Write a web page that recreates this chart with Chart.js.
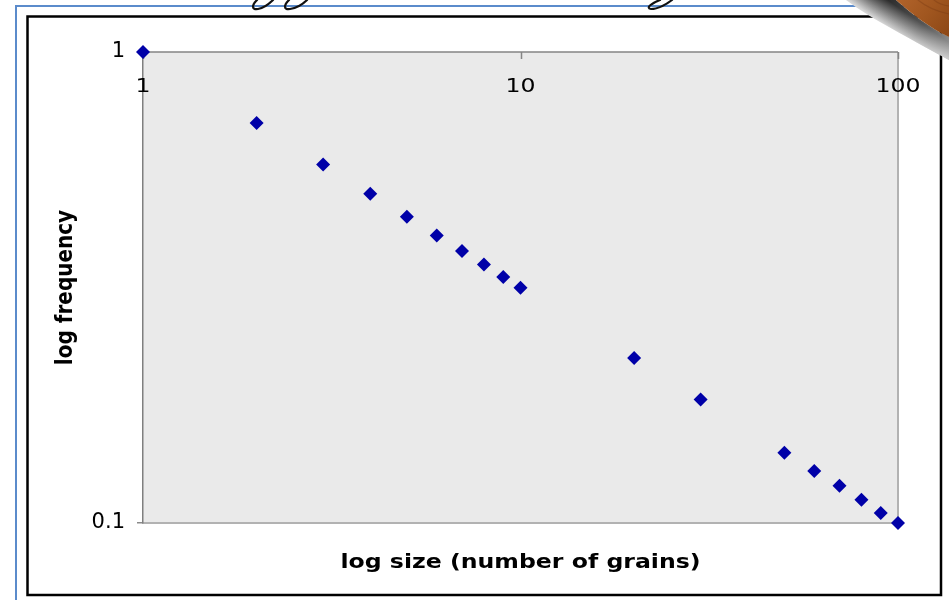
<!DOCTYPE html>
<html>
<head>
<meta charset="utf-8">
<script src="https://cdn.jsdelivr.net/npm/chart.js@4.4.1/dist/chart.umd.min.js"></script>
<style>
  html, body { margin: 0; padding: 0; background: #fff; }
  canvas { display: block; }
</style>
</head>
<body>
<canvas id="chart" width="949" height="600"></canvas>
<script>
// Avalanche sizes (grains) and how often each size occurs
const sizes = [1, 2, 3, 4, 5, 6, 7, 8, 9, 10, 20, 30, 50, 60, 70, 80, 90, 100];
const frequencies = [1, 0.707, 0.577, 0.5, 0.447, 0.408, 0.378, 0.354, 0.333, 0.316,
                     0.224, 0.183, 0.141, 0.129, 0.120, 0.112, 0.105, 0.1];

const xTickValues = [1, 10, 100];
const xTickLabels = ['1', '10', '100'];
const yTickValues = [0.1, 1];
const yTickLabels = ['0.1', '1'];

const xTitle = 'log size (number of grains)';
const yTitle = 'log frequency';

const FONT = '"DejaVu Sans", Verdana, sans-serif';
const H_STRETCH = 1.18;

// Page frame, plot background
const framePlugin = {
  id: 'frame',
  beforeDraw(chart) {
    const ctx = chart.ctx;
    const a = chart.chartArea;
    ctx.save();
    ctx.fillStyle = '#ffffff';
    ctx.fillRect(0, 0, chart.width, chart.height);

    // slide guides
    ctx.strokeStyle = '#5b8bcb';
    ctx.lineWidth = 2;
    ctx.beginPath();
    ctx.moveTo(15, 6); ctx.lineTo(949, 6);
    ctx.moveTo(16, 6); ctx.lineTo(16, 600);
    ctx.stroke();

    // outer chart frame
    ctx.strokeStyle = '#000000';
    ctx.lineWidth = 2.5;
    ctx.strokeRect(27.5, 16.5, 913.5, 578.5);

    // plot area
    ctx.fillStyle = '#eaeaea';
    ctx.fillRect(a.left, a.top, a.right - a.left, a.bottom - a.top);
    ctx.restore();
  },
  beforeDatasetsDraw(chart) {
    const ctx = chart.ctx;
    const a = chart.chartArea;
    const xs = chart.scales.x;
    ctx.save();
    // right edge of the plot area
    ctx.strokeStyle = '#b2b2b2';
    ctx.lineWidth = 2;
    ctx.beginPath();
    ctx.moveTo(a.right, a.top); ctx.lineTo(a.right, a.bottom + 1);
    ctx.stroke();
    // horizontal axis line along the top, with its tick marks
    ctx.strokeStyle = '#858585';
    ctx.lineWidth = 1.5;
    ctx.beginPath();
    ctx.moveTo(a.left, a.top); ctx.lineTo(a.right, a.top);
    xs.ticks.forEach(t => {
      const px = Math.round(xs.getPixelForValue(t.value)) + 0.5;
      ctx.moveTo(px, a.top); ctx.lineTo(px, a.top + 7);
    });
    ctx.stroke();

    // x tick labels, just under the axis line
    ctx.fillStyle = '#000';
    ctx.font = '20px ' + FONT;
    ctx.textAlign = 'center';
    ctx.textBaseline = 'alphabetic';
    xs.ticks.forEach(t => {
      const px = xs.getPixelForValue(t.value);
      ctx.save();
      ctx.translate(px, a.top + 40);
      ctx.scale(H_STRETCH, 1);
      ctx.fillText(xTickLabels[xTickValues.indexOf(t.value)], 0, 0);
      ctx.restore();
    });

    // axis titles
    ctx.font = 'bold 20px ' + FONT;
    ctx.save();
    ctx.translate((a.left + a.right) / 2, 568);
    ctx.scale(H_STRETCH, 1);
    ctx.fillText(xTitle, 0, 0);
    ctx.restore();

    ctx.save();
    ctx.textBaseline = 'middle';
    ctx.translate(66, (a.top + a.bottom) / 2);
    ctx.scale(H_STRETCH, 1);
    ctx.rotate(-Math.PI / 2);
    ctx.fillText(yTitle, 0, 0);
    ctx.restore();
    ctx.restore();
  }
};

// Curled photo corner and the foot of the handwritten heading
const cornerPlugin = {
  id: 'corner',
  afterDraw(chart) {
    const ctx = chart.ctx;
    ctx.save();
    ctx.strokeStyle = '#111';
    ctx.lineWidth = 2.2;
    ctx.lineCap = 'round';
    ctx.beginPath();
    ctx.moveTo(257, 0); ctx.bezierCurveTo(252, 5, 251, 10, 258, 9);
    ctx.bezierCurveTo(264, 8, 270, 3, 273, 0);
    ctx.moveTo(289, 0); ctx.bezierCurveTo(284, 5, 283, 10, 290, 9);
    ctx.bezierCurveTo(297, 8, 304, 3, 307, 0);
    ctx.moveTo(660, 0); ctx.bezierCurveTo(652, 3, 645, 8, 651, 9);
    ctx.bezierCurveTo(658, 9, 667, 4, 672, 0);
    ctx.stroke();

    // shadow band under the curl: dark at the top, fading toward the right edge
    const band = new Path2D();
    band.moveTo(846, 0);
    band.lineTo(896, 0);
    band.bezierCurveTo(912, 14, 930, 28, 949, 37);
    band.lineTo(949, 60);
    band.bezierCurveTo(930, 50, 905, 36, 880, 22);
    band.bezierCurveTo(866, 14, 854, 6, 846, 0);
    band.closePath();

    ctx.save();
    ctx.clip(band);
    const sg = ctx.createLinearGradient(908, 14, 890, 40);
    sg.addColorStop(0, 'rgb(30,30,30)');
    sg.addColorStop(0.3, 'rgb(105,105,105)');
    sg.addColorStop(0.7, 'rgb(210,210,210)');
    sg.addColorStop(1, 'rgb(255,255,255)');
    ctx.fillStyle = sg;
    ctx.fillRect(830, 0, 130, 70);
    const fade = ctx.createLinearGradient(870, 0, 949, 55);
    fade.addColorStop(0, 'rgba(255,255,255,0)');
    fade.addColorStop(0.6, 'rgba(255,255,255,0.25)');
    fade.addColorStop(1, 'rgba(255,255,255,0.55)');
    ctx.fillStyle = fade;
    ctx.fillRect(830, 0, 130, 70);
    ctx.restore();

    // wooden surface
    const g = ctx.createLinearGradient(900, 0, 949, 36);
    g.addColorStop(0, '#b0622a');
    g.addColorStop(0.5, '#a0561f');
    g.addColorStop(1, '#8c4716');
    ctx.fillStyle = g;
    ctx.beginPath();
    ctx.moveTo(896, 0);
    ctx.lineTo(949, 0);
    ctx.lineTo(949, 37);
    ctx.bezierCurveTo(930, 28, 912, 14, 896, 0);
    ctx.closePath();
    ctx.fill();
    ctx.strokeStyle = 'rgba(110,50,15,0.3)';
    ctx.lineWidth = 1.2;
    ctx.beginPath();
    ctx.moveTo(918, 0); ctx.quadraticCurveTo(930, 10, 949, 14);
    ctx.moveTo(934, 0); ctx.quadraticCurveTo(940, 5, 949, 6);
    ctx.stroke();
    ctx.restore();
  }
};

new Chart(document.getElementById('chart'), {
  type: 'scatter',
  data: {
    datasets: [{
      data: sizes.map((s, i) => ({ x: s, y: frequencies[i] })),
      pointStyle: 'rectRot',
      pointRadius: 7,
      pointHoverRadius: 7,
      backgroundColor: '#0000a8',
      borderColor: '#0000a8',
      borderWidth: 0,
      showLine: false,
      clip: false
    }]
  },
  options: {
    responsive: false,
    animation: false,
    events: [],
    devicePixelRatio: 1,
    layout: { padding: { left: 0, top: 52, right: 51, bottom: 0 } },
    plugins: { legend: { display: false }, tooltip: { enabled: false } },
    scales: {
      x: {
        type: 'logarithmic',
        position: 'bottom',
        min: 1,
        max: 100,
        afterBuildTicks(s) { s.ticks = xTickValues.map(v => ({ value: v })); },
        afterFit(s) { s.height = 77; },
        ticks: { display: false },
        grid: { display: true, drawOnChartArea: false, drawTicks: false },
        border: { display: true, color: '#b2b2b2', width: 2 },
        title: { display: false }
      },
      y: {
        type: 'logarithmic',
        position: 'left',
        min: 0.1,
        max: 1,
        afterBuildTicks(s) { s.ticks = yTickValues.map(v => ({ value: v })); },
        afterFit(s) { s.width = 143; },
        ticks: {
          padding: 12,
          color: '#000',
          font: { family: FONT, size: 21 },
          callback: (v) => yTickLabels[yTickValues.indexOf(v)]
        },
        grid: { drawOnChartArea: false, drawTicks: true, tickLength: 6, color: '#8a8a8a', lineWidth: 1.5 },
        border: { display: true, color: '#7f7f7f', width: 1.5 },
        title: { display: false }
      }
    }
  },
  plugins: [framePlugin, cornerPlugin]
});
</script>
</body>
</html>
